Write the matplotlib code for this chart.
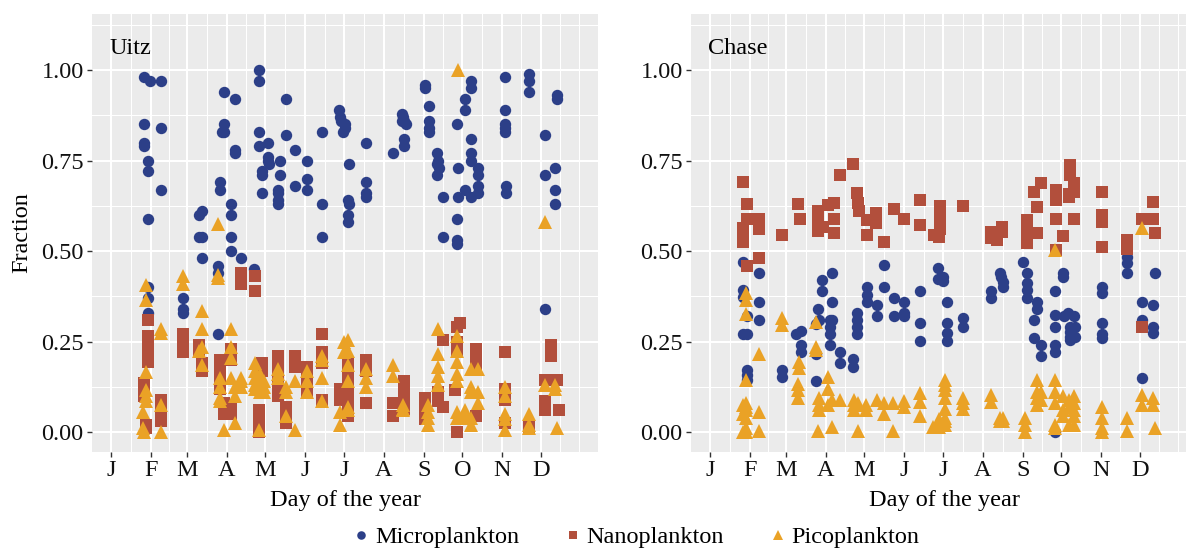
import matplotlib
matplotlib.use("Agg")
import matplotlib.pyplot as plt
from matplotlib.lines import Line2D
from matplotlib.ticker import FixedLocator

# ---------------- data ----------------
month_days = [1, 32, 60, 91, 121, 152, 182, 213, 244, 274, 305, 335]
month_labels = ["J", "F", "M", "A", "M", "J", "J", "A", "S", "O", "N", "D"]
y_ticks = [0.00, 0.25, 0.50, 0.75, 1.00]
panel_names = ["Uitz", "Chase"]
group_names = ["Microplankton", "Nanoplankton", "Picoplankton"]

# Uitz panel
uitz_micro_day = [27, 31, 40, 27, 40, 27, 27, 30, 30, 40, 30, 30, 30, 30,
                  57, 57, 57, 69, 72, 69, 72, 72, 84, 84, 84,
                  86, 86, 87, 89, 89, 89, 94, 94, 94, 94, 97, 97, 97, 102, 112,
                  116, 116, 116, 116, 118, 118, 118, 123, 123, 123, 124,
                  131, 131, 131, 131, 132, 132, 137, 137, 144, 144, 153, 153, 153,
                  165, 165, 165, 178, 179, 180, 183, 183, 181,
                  186, 185, 186, 185, 185, 199, 199, 199, 199, 220,
                  227, 228, 229, 230, 227, 229, 229,
                  245, 245, 248, 248, 248, 248, 254, 255, 254, 256, 254, 259, 259,
                  270, 271, 271, 270, 270, 270, 276, 276, 276,
                  281, 281, 281, 281, 281, 281, 286, 286, 286, 286,
                  307, 307, 307, 307, 307, 308, 308, 326, 326, 326,
                  338, 338, 338, 346, 346, 346, 348, 348]
uitz_micro_val = [0.98, 0.97, 0.97, 0.85, 0.84, 0.80, 0.79, 0.75, 0.72, 0.67, 0.59, 0.40, 0.37, 0.33,
                  0.37, 0.34, 0.33, 0.60, 0.61, 0.54, 0.54, 0.48, 0.46, 0.44, 0.27,
                  0.69, 0.67, 0.83, 0.83, 0.85, 0.94, 0.63, 0.60, 0.54, 0.50, 0.92, 0.78, 0.77, 0.48, 0.45,
                  1.00, 0.97, 0.83, 0.79, 0.72, 0.71, 0.66, 0.80, 0.76, 0.75, 0.74,
                  0.67, 0.66, 0.64, 0.63, 0.75, 0.71, 0.92, 0.82, 0.78, 0.68, 0.75, 0.70, 0.67,
                  0.83, 0.63, 0.54, 0.89, 0.87, 0.86, 0.85, 0.84, 0.83,
                  0.74, 0.64, 0.63, 0.60, 0.58, 0.80, 0.69, 0.66, 0.65, 0.77,
                  0.88, 0.87, 0.86, 0.85, 0.86, 0.81, 0.79,
                  0.96, 0.95, 0.90, 0.86, 0.84, 0.83, 0.77, 0.75, 0.74, 0.73, 0.71, 0.65, 0.54,
                  0.85, 0.73, 0.65, 0.59, 0.53, 0.52, 0.92, 0.89, 0.67,
                  0.97, 0.95, 0.81, 0.77, 0.75, 0.65, 0.73, 0.71, 0.68, 0.66,
                  0.98, 0.89, 0.85, 0.84, 0.83, 0.68, 0.66, 0.99, 0.97, 0.94,
                  0.82, 0.71, 0.34, 0.73, 0.67, 0.63, 0.93, 0.92]

uitz_nano_day = [30, 30, 30, 30, 30, 27, 27, 27, 28, 28,
                 40, 40, 40, 40, 57, 57, 57, 69, 69, 72, 72,
                 86, 86, 86, 86, 89, 89, 94, 94, 94, 94, 102, 102, 113, 113,
                 116, 116, 116, 118, 118, 131, 131, 131, 131, 131, 137, 137, 137,
                 144, 144, 153, 153, 153, 153, 165, 165, 165, 165, 179, 179,
                 185, 185, 185, 185, 185, 185, 199, 199, 199, 220, 220,
                 229, 229, 229, 229, 245, 245, 245, 255, 255, 259, 259,
                 270, 270, 270, 268, 270, 272, 285, 285, 285, 285,
                 307, 307, 307, 307, 326, 326, 343, 343, 338, 348, 338, 338, 349]
uitz_nano_val = [0.31, 0.265, 0.24, 0.215, 0.195, 0.135, 0.115, 0.10, 0.02, 0.01,
                 0.09, 0.07, 0.05, 0.03, 0.27, 0.25, 0.22, 0.24, 0.22, 0.19, 0.17,
                 0.20, 0.17, 0.14, 0.12, 0.08, 0.05, 0.23, 0.20, 0.065, 0.05, 0.44, 0.41, 0.43, 0.39,
                 0.06, 0.03, 0.00, 0.19, 0.17, 0.21, 0.18, 0.15, 0.12, 0.10, 0.07, 0.04, 0.025,
                 0.21, 0.18, 0.18, 0.15, 0.12, 0.11, 0.27, 0.22, 0.19, 0.09, 0.12, 0.09,
                 0.19, 0.16, 0.13, 0.10, 0.07, 0.045, 0.20, 0.17, 0.08, 0.08, 0.045,
                 0.14, 0.12, 0.09, 0.065, 0.095, 0.065, 0.035, 0.11, 0.085, 0.255, 0.07,
                 0.29, 0.25, 0.22, 0.115, 0.00, 0.30, 0.23, 0.20, 0.18, 0.045,
                 0.22, 0.12, 0.09, 0.025, 0.02, 0.01, 0.24, 0.21, 0.145, 0.145, 0.085, 0.06, 0.06]

uitz_pico_day = [28, 28, 28, 28, 28, 28, 26, 26, 27, 40, 40, 40, 40, 57, 57,
                 84, 84, 84, 72, 72, 72, 72, 69, 94, 94, 94, 94,
                 86, 86, 86, 86, 89, 97, 97, 97, 102, 102, 102,
                 113, 113, 113, 113, 113, 117, 117, 117, 120, 120, 120, 116,
                 131, 131, 131, 137, 137, 137, 144, 144, 153, 153, 153,
                 165, 165, 165, 165, 179, 179, 182, 182,
                 185, 185, 185, 185, 185, 185, 199, 199, 199, 220, 220,
                 228, 228, 228, 247, 247, 247, 247, 255, 255, 255, 255, 255,
                 270, 270, 270, 270, 270, 270, 270, 271, 276, 276,
                 281, 281, 281, 281, 281, 286, 286, 286,
                 307, 307, 307, 307, 307, 326, 326, 326, 338, 338, 346, 346, 348]
uitz_pico_val = [0.405, 0.365, 0.165, 0.115, 0.10, 0.085, 0.055, 0.01, 0.00, 0.285, 0.275, 0.075, 0.00, 0.43, 0.41,
                 0.575, 0.435, 0.425, 0.335, 0.285, 0.235, 0.185, 0.225, 0.285, 0.235, 0.205, 0.15,
                 0.15, 0.125, 0.095, 0.085, 0.005, 0.125, 0.10, 0.025, 0.15, 0.14, 0.125,
                 0.19, 0.17, 0.15, 0.13, 0.12, 0.16, 0.14, 0.11, 0.14, 0.125, 0.11, 0.005,
                 0.175, 0.16, 0.15, 0.125, 0.11, 0.045, 0.14, 0.005, 0.17, 0.14, 0.11,
                 0.21, 0.20, 0.15, 0.085, 0.055, 0.02, 0.25, 0.22,
                 0.255, 0.225, 0.185, 0.14, 0.07, 0.06, 0.175, 0.15, 0.125, 0.185, 0.155,
                 0.075, 0.065, 0.06, 0.075, 0.055, 0.04, 0.02, 0.285, 0.215, 0.18, 0.155, 0.13,
                 0.265, 0.225, 0.195, 0.16, 0.14, 0.055, 0.04, 1.00, 0.06, 0.04,
                 0.175, 0.125, 0.11, 0.04, 0.02, 0.175, 0.11, 0.08,
                 0.125, 0.10, 0.05, 0.035, 0.005, 0.05, 0.02, 0.01, 0.13, 0.58, 0.13, 0.12, 0.01]

# Chase panel
chase_micro_day = [27, 27, 27, 27, 30, 30, 30, 30, 30, 39, 39, 39, 57, 57,
                   68, 72, 72, 72, 83, 83, 83, 85, 86, 88, 88, 94, 94, 94, 94,
                   96, 96, 96, 102, 102, 112, 112, 115, 115, 115, 115,
                   123, 123, 123, 131, 131, 136, 136, 144, 144, 152, 152, 152,
                   164, 164, 164, 178, 178, 182, 182, 185, 185, 185, 185, 198, 198,
                   219, 219, 226, 227, 229, 229, 244, 247, 247, 247, 247,
                   255, 255, 253, 253, 258, 258, 269, 269, 269, 269, 269, 269,
                   275, 275, 276, 279, 284, 281, 281, 281, 281, 285, 285,
                   306, 306, 306, 306, 306, 325, 325, 325, 337, 337, 337,
                   345, 345, 345, 347]
chase_micro_val = [0.47, 0.392, 0.372, 0.271, 0.321, 0.271, 0.171, 0.157, 0.144, 0.44, 0.36, 0.309, 0.171, 0.153,
                   0.271, 0.28, 0.24, 0.22, 0.298, 0.215, 0.142, 0.341, 0.309, 0.42, 0.39, 0.309, 0.291, 0.271, 0.24,
                   0.44, 0.36, 0.309, 0.222, 0.191, 0.201, 0.18, 0.33, 0.309, 0.291, 0.271,
                   0.401, 0.378, 0.36, 0.351, 0.321, 0.461, 0.401, 0.371, 0.321, 0.36, 0.33, 0.321,
                   0.39, 0.301, 0.251, 0.452, 0.422, 0.429, 0.418, 0.36, 0.301, 0.273, 0.251, 0.314, 0.291,
                   0.39, 0.371, 0.44, 0.429, 0.415, 0.401, 0.47, 0.44, 0.411, 0.392, 0.371,
                   0.36, 0.341, 0.311, 0.259, 0.24, 0.21, 0.39, 0.323, 0.291, 0.24, 0.22, 0.00,
                   0.44, 0.429, 0.321, 0.33, 0.321, 0.291, 0.277, 0.263, 0.254, 0.291, 0.263,
                   0.401, 0.383, 0.301, 0.271, 0.259, 0.484, 0.466, 0.44, 0.36, 0.311, 0.15,
                   0.351, 0.291, 0.273, 0.44]

chase_nano_day = [27, 30, 30, 27, 27, 27, 30, 39, 39, 39, 57, 69, 71,
                  85, 85, 85, 89, 93, 97, 97, 97, 102, 112, 115, 116, 117,
                  123, 123, 130, 130, 136, 144, 152, 164, 164,
                  175, 180, 180, 180, 180, 179, 198,
                  219, 219, 224, 228, 228, 247, 247, 247, 255, 255, 253, 258,
                  270, 270, 270, 270, 275, 280, 280, 281, 281, 284, 284, 284,
                  306, 306, 306, 306, 325, 325, 337, 337, 345, 345, 347]
chase_nano_val = [0.69, 0.63, 0.59, 0.565, 0.545, 0.525, 0.46, 0.59, 0.56, 0.48, 0.545, 0.63, 0.59,
                  0.61, 0.585, 0.555, 0.567, 0.627, 0.632, 0.59, 0.55, 0.71, 0.74, 0.66, 0.632, 0.61,
                  0.586, 0.544, 0.604, 0.577, 0.526, 0.615, 0.59, 0.641, 0.572,
                  0.544, 0.625, 0.60, 0.58, 0.56, 0.54, 0.624,
                  0.535, 0.553, 0.53, 0.567, 0.553, 0.586, 0.553, 0.521, 0.549, 0.622, 0.664, 0.689,
                  0.668, 0.641, 0.59, 0.503, 0.541, 0.659, 0.65, 0.738, 0.71, 0.687, 0.664, 0.59,
                  0.664, 0.60, 0.581, 0.51, 0.53, 0.507, 0.59, 0.29, 0.636, 0.59, 0.549]

chase_pico_day = [29, 29, 29, 29, 29, 29, 29, 29, 29, 29, 27, 27, 27, 39, 39, 39, 57, 57,
                  70, 70, 69, 69, 69, 83, 83, 83, 86, 86, 86, 85, 93, 93, 93, 96, 96, 102,
                  113, 113, 113, 116, 116, 122, 122, 131, 136, 136, 143, 143, 152, 152,
                  164, 164, 164, 174, 184, 184, 184, 184, 184, 184, 184, 184, 179, 179,
                  198, 198, 198, 219, 219, 226, 226, 229, 229, 246, 246, 246,
                  255, 255, 255, 255, 258, 258, 269, 269, 269, 269, 269, 269,
                  275, 275, 275, 280, 280, 280, 284, 284, 284, 284, 284,
                  306, 306, 306, 306, 325, 325, 337, 337, 337, 345, 345, 347]
chase_pico_val = [0.383, 0.365, 0.325, 0.144, 0.08, 0.07, 0.06, 0.04, 0.01, 0.00, 0.075, 0.05, 0.00,
                  0.215, 0.056, 0.003, 0.314, 0.296,
                  0.194, 0.176, 0.134, 0.116, 0.093, 0.305, 0.236, 0.226, 0.093, 0.075, 0.06, 0.003,
                  0.153, 0.12, 0.075, 0.015, 0.09, 0.09,
                  0.09, 0.075, 0.06, 0.08, 0.003, 0.075, 0.06, 0.09, 0.08, 0.05, 0.08, 0.003, 0.085, 0.07,
                  0.107, 0.084, 0.044, 0.015, 0.144, 0.13, 0.116, 0.093, 0.065, 0.04, 0.03, 0.02, 0.035, 0.015,
                  0.093, 0.08, 0.065, 0.102, 0.084, 0.04, 0.03, 0.04, 0.03, 0.04, 0.02, 0.00,
                  0.144, 0.11, 0.093, 0.075, 0.11, 0.09, 0.503, 0.144, 0.11, 0.08, 0.02, 0.01,
                  0.10, 0.06, 0.045, 0.09, 0.07, 0.02, 0.10, 0.08, 0.06, 0.045, 0.02,
                  0.068, 0.04, 0.01, 0.00, 0.04, 0.003, 0.563, 0.102, 0.075, 0.093, 0.075, 0.01]

# ---------------- style ----------------
plt.rcParams['font.family'] = ['Liberation Serif', 'DejaVu Serif']
FS = 17.5
colors = ["#2C3F88", "#B24F3C", "#EAA226"]
markers = ["o", "s", "^"]
msizes = [8.2, 8.1, 9.8]

W, H = 1186, 548
fig = plt.figure(figsize=(W / 100, H / 100), dpi=100)

panels = [
    (panel_names[0], [(uitz_micro_day, uitz_micro_val), (uitz_nano_day, uitz_nano_val), (uitz_pico_day, uitz_pico_val)], 92),
    (panel_names[1], [(chase_micro_day, chase_micro_val), (chase_nano_day, chase_nano_val), (chase_pico_day, chase_pico_val)], 691),
]

# minor gridline positions (ggplot-style midpoints incl. extrapolated ends)
ext = [month_days[0] - (month_days[1] - month_days[0])] + month_days + [month_days[-1] + (month_days[-1] - month_days[-2])]
x_minor = []
for a, b in zip(ext[:-1], ext[1:]):
    x_minor.append((a + b) / 2)
x_minor += [ext[0], ext[-1]]
y_minor = [-0.125, 0.125, 0.375, 0.625, 0.875, 1.125]

ax_w, ax_top, ax_bot = 506, 14, 452
for i, (name, series, left_px) in enumerate(panels):
    ax = fig.add_axes([left_px / W, 1 - ax_bot / H, ax_w / W, (ax_bot - ax_top) / H])
    ax.set_facecolor("#EBEBEB")
    for s in ax.spines.values():
        s.set_visible(False)
    ax.set_xlim(-13.8, 379.5)
    ax.set_ylim(-0.055, 1.155)
    ax.xaxis.set_major_locator(FixedLocator(month_days))
    ax.xaxis.set_minor_locator(FixedLocator(x_minor))
    ax.yaxis.set_major_locator(FixedLocator(y_ticks))
    ax.yaxis.set_minor_locator(FixedLocator(y_minor))
    ax.set_xticklabels(month_labels)
    ax.set_yticklabels([f"{v:.2f}" for v in y_ticks])
    ax.grid(True, which="major", color="white", lw=1.45)
    ax.grid(True, which="minor", color="white", lw=0.75)
    ax.set_axisbelow(True)
    ax.tick_params(which="major", length=3.5, width=1.0, color="#333333",
                   labelsize=FS, labelcolor="#111111", pad=2.5)
    ax.tick_params(which="minor", length=0)
    for (dd, vv), c, m, ms in zip(series, colors, markers, msizes):
        ax.plot(dd, vv, linestyle="none", marker=m, markersize=ms, color=c,
                markeredgewidth=0, zorder=3, clip_on=True)
    ax.text(0.2 if i == 0 else -0.5, 1.061, name, fontsize=FS, ha="left", va="center", color="black")
    ax.set_xlabel("Day of the year", fontsize=FS, labelpad=6)
    if i == 0:
        ax.set_ylabel("Fraction", fontsize=FS, labelpad=6)

handles = [Line2D([], [], linestyle="none", marker=m, markersize=s * 0.75, color=c, markeredgewidth=0)
           for m, c, s in zip(markers, colors, msizes)]
fig.legend(handles, group_names, loc="center", bbox_to_anchor=(636 / W, 1 - 537 / H),
           ncol=3, frameon=False, fontsize=FS, handlelength=0.7, handletextpad=0.2,
           columnspacing=1.87, borderpad=0)

fig.savefig("out.png", dpi=100)
